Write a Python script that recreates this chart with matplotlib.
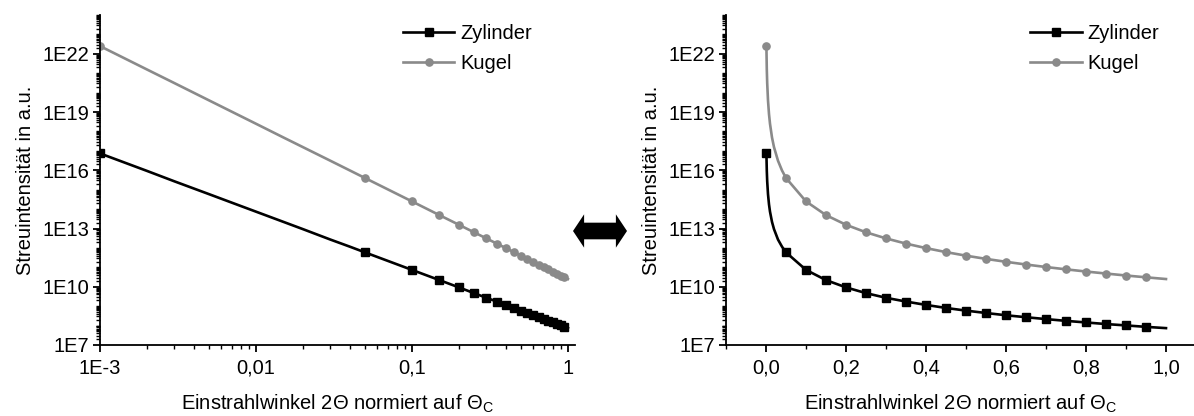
import numpy as np
import matplotlib
matplotlib.use("Agg")
import matplotlib.pyplot as plt
from matplotlib.ticker import FixedLocator, FuncFormatter, LogLocator, MultipleLocator, NullFormatter
from matplotlib.patches import FancyArrowPatch

plt.rcParams["font.family"] = ["Liberation Sans", "DejaVu Sans"]
plt.rcParams["mathtext.fontset"] = "custom"
plt.rcParams["mathtext.rm"] = "Liberation Sans"

# values
winkel = [0.001, 0.002, 0.003, 0.005, 0.0075, 0.01, 0.015, 0.02, 0.03, 0.04,
          0.05, 0.1, 0.15, 0.2, 0.25, 0.3, 0.35, 0.4, 0.45, 0.5,
          0.55, 0.6, 0.65, 0.7, 0.75, 0.8, 0.85, 0.9, 0.95, 1.0]
zylinder = [7.4e16, 9.3e15, 2.7e15, 5.9e14, 1.75e14, 7.4e13, 2.2e13, 9.3e12, 2.7e12, 1.16e12,
            5.9e11, 7.4e10, 2.2e10, 9.3e9, 4.7e9, 2.7e9, 1.73e9, 1.16e9, 8.1e8, 5.9e8,
            4.45e8, 3.4e8, 2.7e8, 2.16e8, 1.75e8, 1.45e8, 1.2e8, 1.02e8, 8.6e7, 7.4e7]
kugel = [2.5e22, 1.56e21, 3.1e20, 4.0e19, 7.9e18, 2.5e18, 4.9e17, 1.56e17, 3.1e16, 9.8e15,
         4.0e15, 2.5e14, 4.9e13, 1.56e13, 6.4e12, 3.1e12, 1.67e12, 9.8e11, 6.1e11, 4.0e11,
         2.73e11, 1.93e11, 1.4e11, 1.04e11, 7.9e10, 6.1e10, 4.8e10, 3.8e10, 3.07e10, 2.5e10]
# points that carry a symbol
markiert = [0] + list(range(10, 29))

links_ticks = [1e-3, 0.01, 0.1, 1]
links_labels = ["1E-3", "0,01", "0,1", "1"]
rechts_ticks = [0.0, 0.2, 0.4, 0.6, 0.8, 1.0]
rechts_labels = ["0,0", "0,2", "0,4", "0,6", "0,8", "1,0"]

grau = "#8a8a8a"
fs = 14.5

fig = plt.figure(figsize=(11.94, 4.16), dpi=100)
ax1 = fig.add_axes([100 / 1194, 71 / 416, 475 / 1194, 330 / 416])
ax2 = fig.add_axes([726 / 1194, 71 / 416, 468 / 1194, 330 / 416])


def style(ax):
    for s in ["top", "right"]:
        ax.spines[s].set_visible(False)
    for s in ["left", "bottom"]:
        ax.spines[s].set_linewidth(1.3)
    ax.set_yscale("log")
    ax.set_ylim(1e7, 1e24)
    ax.yaxis.set_major_locator(FixedLocator([1e7, 1e10, 1e13, 1e16, 1e19, 1e22]))
    ax.yaxis.set_major_formatter(FuncFormatter(lambda v, p: "1E%d" % round(np.log10(v))))
    ax.yaxis.set_minor_locator(LogLocator(base=10, subs=np.arange(1, 10), numticks=200))
    ax.yaxis.set_minor_formatter(NullFormatter())
    ax.tick_params(which="major", direction="out", length=5, width=1.3, labelsize=fs, pad=3)
    ax.tick_params(which="minor", direction="out", length=3, width=1.0)
    ax.tick_params(axis="x", which="major", pad=5)
    ax.set_ylabel("Streuintensität in a.u.", fontsize=fs, labelpad=5)
    ax.set_xlabel("Einstrahlwinkel 2Θ normiert auf $\\mathregular{Θ_C}$", fontsize=fs, labelpad=11)


for ax in (ax1, ax2):
    ax.plot(winkel, zylinder, color="black", lw=1.9, marker="s", ms=5.2,
            markevery=markiert, label="Zylinder")
    ax.plot(winkel, kugel, color=grau, lw=1.9, marker="o", ms=5.2,
            markevery=markiert, label="Kugel")
    style(ax)

ax1.set_xscale("log")
ax1.set_xlim(1e-3, 1.11)
ax1.xaxis.set_major_locator(FixedLocator(links_ticks))
ax1.set_xticklabels(links_labels)
ax1.xaxis.set_minor_locator(LogLocator(base=10, subs=np.arange(2, 10), numticks=50))
ax1.xaxis.set_minor_formatter(NullFormatter())

ax2.set_xlim(-0.1, 1.07)
ax2.xaxis.set_major_locator(FixedLocator(rechts_ticks))
ax2.set_xticklabels(rechts_labels)
ax2.xaxis.set_minor_locator(MultipleLocator(0.1))

for ax, xa in ((ax1, 0.638), (ax2, 0.65)):
    ax.legend(loc="upper left", bbox_to_anchor=(xa, 0.972), frameon=False, fontsize=fs,
              handlelength=2.55, handletextpad=0.3, labelspacing=0.55,
              borderpad=0, borderaxespad=0)

# double arrow between the panels
mitte = (600 / 1194, 185 / 416)
for spitze in ((573 / 1194, 185 / 416), (627 / 1194, 185 / 416)):
    fig.patches.append(FancyArrowPatch(mitte, spitze, transform=fig.transFigure,
                                       arrowstyle="simple,head_length=8,head_width=24,tail_width=12",
                                       mutation_scale=1, color="black", lw=0,
                                       shrinkA=0, shrinkB=0))

fig.savefig("out.png", dpi=100)
